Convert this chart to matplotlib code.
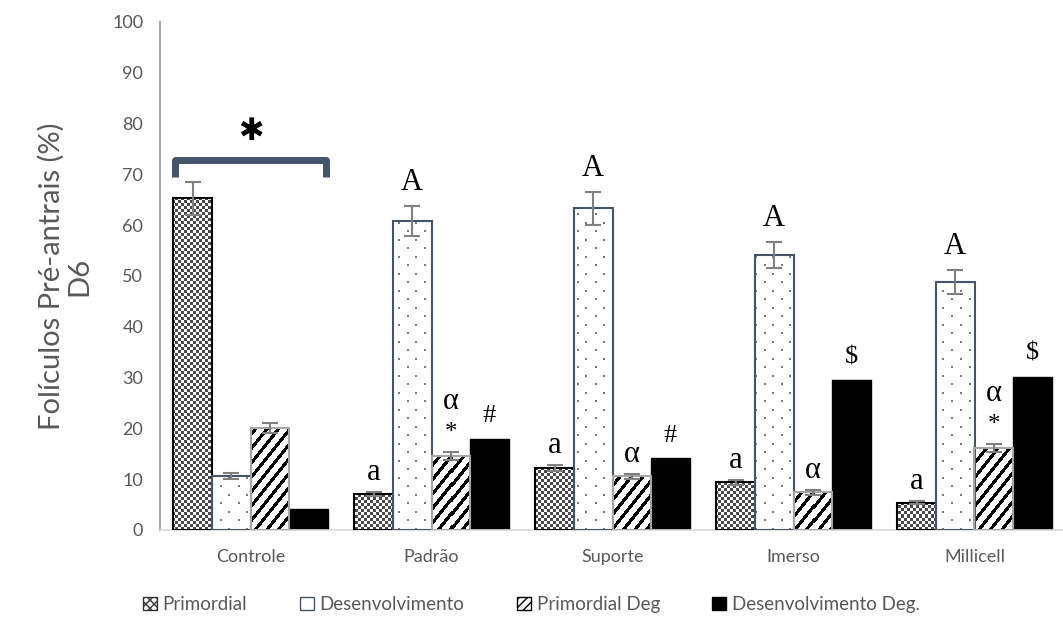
import numpy as np
import matplotlib.pyplot as plt
from matplotlib.colors import ListedColormap
from matplotlib.patches import Patch
from matplotlib.lines import Line2D

# Dados: foliculos pre-antrais (%) no D6
grupos = ['Controle', 'Padrão', 'Suporte', 'Imerso', 'Millicell']
series = ['Primordial', 'Desenvolvimento', 'Primordial Deg', 'Desenvolvimento Deg.']

primordial = [65.3, 7.0, 12.2, 9.4, 5.4]
desenvolvimento = [10.6, 60.8, 63.3, 54.1, 48.8]
primordial_deg = [20.0, 14.5, 10.6, 7.4, 16.1]
desenvolvimento_deg = [4.1, 17.9, 14.1, 29.5, 30.2]

erro_primordial = [3.3, 0.4, 0.5, 0.5, 0.3]
erro_desenvolvimento = [0.6, 3.0, 3.2, 2.6, 2.4]
erro_primordial_deg = [1.0, 0.8, 0.5, 0.5, 0.8]

# letras de significancia sobre cada barra
letras_primordial = ['', 'a', 'a', 'a', 'a']
letras_desenvolvimento = ['', 'A', 'A', 'A', 'A']
letras_primordial_deg = ['', 'α\n*', 'α', 'α', 'α\n*']
letras_desenvolvimento_deg = ['', '#', '#', '$', '$']

CINZA_TXT = '#595959'
AZUL = '#44546A'

plt.rcParams['font.family'] = ['Lato', 'DejaVu Sans']

fig = plt.figure(figsize=(10.63, 6.3), dpi=100)
ax = fig.add_axes([160 / 1063, 100 / 630, 905 / 1063, 508 / 630])

x = np.arange(len(grupos))
w = 0.213
ylim = (0, 100)
xlim = (-0.5, 4.5)

# tamanho da area do eixo em pixels (para as texturas)
W_px = fig.get_figwidth() * fig.dpi * ax.get_position().width
H_px = fig.get_figheight() * fig.dpi * ax.get_position().height

PADROES = {
    'xadrez': ListedColormap(['#ffffff', '#4a4a4a']),
    'listras': ListedColormap(['#ffffff', '#000000']),
    'pontos': ListedColormap(['#ffffff', '#7a7a7a']),
}


def textura(bar, tipo):
    """Preenche a barra com uma textura em pixels, recortada no retangulo."""
    x0, y0 = bar.get_x(), bar.get_y()
    x1, y1 = x0 + bar.get_width(), y0 + bar.get_height()
    px0 = int(round((x0 - xlim[0]) / (xlim[1] - xlim[0]) * W_px))
    px1 = int(round((x1 - xlim[0]) / (xlim[1] - xlim[0]) * W_px))
    py0 = int(round((y0 - ylim[0]) / (ylim[1] - ylim[0]) * H_px))
    py1 = int(round((y1 - ylim[0]) / (ylim[1] - ylim[0]) * H_px))
    cols = np.arange(px0, max(px1, px0 + 1))
    rows = np.arange(py0, max(py1, py0 + 1))
    cc, rr = np.meshgrid(cols, rows)
    if tipo == 'xadrez':
        val = (cc // 3 + rr // 3) % 2
    elif tipo == 'listras':
        val = ((cc - rr / 1.25) % 11.5) < 4.2
    else:
        a = ((cc % 17) < 2) & ((rr % 17) < 2)
        b = (((cc + 8) % 17) < 2) & (((rr + 8) % 17) < 2)
        val = a | b
    im = ax.imshow(val.astype(float), extent=(x0, x1, y0, y1), origin='lower',
                   interpolation='nearest', cmap=PADROES[tipo], vmin=0, vmax=1,
                   aspect='auto', zorder=2)
    im.set_clip_path(bar)


# Primordial: xadrez
b1 = ax.bar(x - 1.5 * w, primordial, w, facecolor='white', linewidth=0, zorder=2)
for b in b1:
    textura(b, 'xadrez')
ax.bar(x - 1.5 * w, primordial, w, facecolor='none', edgecolor='black',
       linewidth=1.5, zorder=3)

# Desenvolvimento: pontos
b2 = ax.bar(x - 0.5 * w, desenvolvimento, w, facecolor='white', linewidth=0,
            zorder=2)
for b in b2:
    textura(b, 'pontos')
ax.bar(x - 0.5 * w, desenvolvimento, w, facecolor='none', edgecolor=AZUL,
       linewidth=1.5, zorder=3)

# Primordial Deg: listras diagonais
b3 = ax.bar(x + 0.5 * w, primordial_deg, w, facecolor='white', linewidth=0,
            zorder=2)
for b in b3:
    textura(b, 'listras')
ax.bar(x + 0.5 * w, primordial_deg, w, facecolor='none', edgecolor='#a6a6a6',
       linewidth=1.5, zorder=3)

# Desenvolvimento Deg: preto
ax.bar(x + 1.5 * w, desenvolvimento_deg, w, facecolor='black', edgecolor='black',
       linewidth=1, zorder=2)

# barras de erro
for off, val, err in [(-1.5, primordial, erro_primordial),
                      (-0.5, desenvolvimento, erro_desenvolvimento),
                      (0.5, primordial_deg, erro_primordial_deg)]:
    ax.errorbar(x + off * w, val, yerr=err, fmt='none', ecolor='#808080',
                elinewidth=1.5, capsize=5.5, capthick=1.5, zorder=4)

# letras
fonte_letra = dict(family='Liberation Serif', ha='center', va='bottom', zorder=5)
for i in range(len(grupos)):
    if letras_primordial[i]:
        ax.text(x[i] - 1.5 * w, primordial[i] + erro_primordial[i] + 1.0,
                letras_primordial[i], fontsize=22, **fonte_letra)
    if letras_desenvolvimento[i]:
        ax.text(x[i] - 0.5 * w, desenvolvimento[i] + erro_desenvolvimento[i] + 1.8,
                letras_desenvolvimento[i], fontsize=22, **fonte_letra)
    if letras_primordial_deg[i]:
        partes = letras_primordial_deg[i].split('\n')
        base = primordial_deg[i] + erro_primordial_deg[i] + 1.0
        if len(partes) == 2:
            ax.text(x[i] + 0.5 * w, base + 0.6, partes[1], fontsize=18,
                    **fonte_letra)
            base += 6.2
        ax.text(x[i] + 0.5 * w, base, partes[0], fontsize=22, **fonte_letra)
    if letras_desenvolvimento_deg[i]:
        ax.text(x[i] + 1.5 * w, desenvolvimento_deg[i] + 2.3,
                letras_desenvolvimento_deg[i], fontsize=19, **fonte_letra)

# colchete sobre o Controle
bx0, bx1 = x[0] - 2 * w, x[0] + 2 * w
ax.add_line(Line2D([bx0 + 0.01, bx0 + 0.01, bx1 - 0.01, bx1 - 0.01],
                   [69.4, 72.9, 72.9, 69.4], color=AZUL, linewidth=5,
                   solid_joinstyle='round', solid_capstyle='butt', zorder=5))
ax.text(x[0], 75.5, '✱', family='DejaVu Sans', fontsize=22, ha='center',
        va='bottom', color='black', zorder=5)

ax.set_xlim(*xlim)
ax.set_ylim(*ylim)
ax.set_yticks(np.arange(0, 101, 10))
ax.set_xticks(x)
ax.set_xticklabels(grupos)
ax.tick_params(axis='both', length=0, labelsize=13, colors=CINZA_TXT)
ax.tick_params(axis='x', pad=14)
ax.tick_params(axis='y', pad=12)
for s in ['top', 'right']:
    ax.spines[s].set_visible(False)
ax.spines['left'].set_color('#a6a6a6')
ax.spines['left'].set_linewidth(1.5)
ax.spines['bottom'].set_color('#d9d9d9')
ax.spines['bottom'].set_linewidth(1.2)

ax.set_ylabel('Folículos Pré-antrais (%)\nD6', fontsize=21, color=CINZA_TXT,
              labelpad=14, linespacing=1.1)

handles = [
    Patch(facecolor='white', edgecolor='#333333', hatch='xxxx', linewidth=1),
    Patch(facecolor='white', edgecolor=AZUL, linewidth=1),
    Patch(facecolor='white', edgecolor='black', hatch='////', linewidth=1),
    Patch(facecolor='black', edgecolor='black', linewidth=1),
]
fig.legend(handles, series, loc='lower center', bbox_to_anchor=(0.5, 0.0),
           ncol=4, frameon=False, fontsize=13.5, handlelength=0.75,
           handleheight=0.75, handletextpad=0.3, columnspacing=2.8,
           labelcolor=CINZA_TXT)

fig.savefig('out.png', dpi=100)
